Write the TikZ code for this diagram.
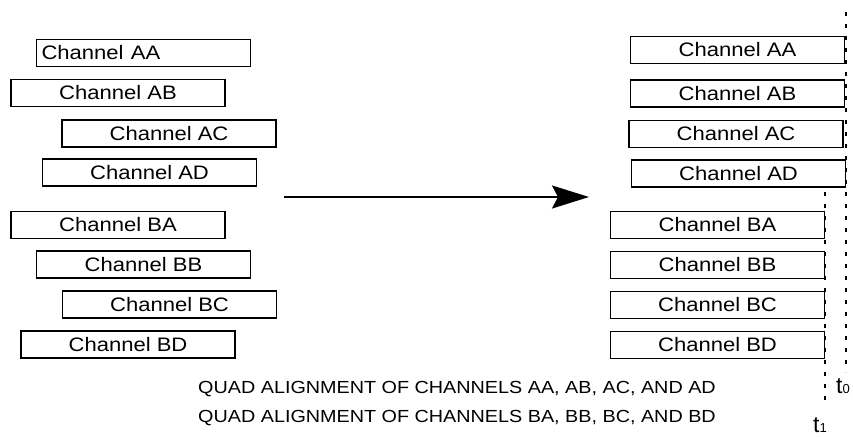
\documentclass[tikz,border=0pt]{standalone}
\usepackage{fontspec}
\usepackage{graphicx}
\setmainfont{Liberation Sans}
\usetikzlibrary{arrows.meta}
\newcommand\sxtext[1]{\scalebox{1.13}[1]{#1}}
\begin{document}
\begin{tikzpicture}[x=1pt,y=-1pt,
  chbox/.style={draw=black, line width=1.9pt, minimum width=214pt, minimum height=27pt, inner sep=0pt,
    font=\fontsize{19.5}{22}\selectfont},
  tline/.style={line width=1.1pt, dash pattern=on 4pt off 8pt},
  caption/.style={font=\fontsize{17.5}{20}\selectfont, anchor=base, inner sep=0pt},
  tlab/.style={font=\fontsize{23}{25}\selectfont, anchor=base west, inner sep=0pt},
  bigarrow/.style={line width=2.2pt, -{Stealth[length=37pt,width=23pt,inset=6pt]}}]
\useasboundingbox (0,0) rectangle (853,436);
% left (unaligned) channels
\node[chbox, align=left, text width=204pt, inner xsep=5pt] (lAA) at (143.5,53) {\sxtext{Channel AA}};
\node[chbox] (lAB) at (118,93) {\sxtext{Channel AB}};
\node[chbox] (lAC) at (169,133.5) {\sxtext{Channel AC}};
\node[chbox] (lAD) at (149.5,172.5) {\sxtext{Channel AD}};
\node[chbox] (lBA) at (118,225) {\sxtext{Channel BA}};
\node[chbox] (lBB) at (143.5,264.5) {\sxtext{Channel BB}};
\node[chbox] (lBC) at (169.5,304.5) {\sxtext{Channel BC}};
\node[chbox] (lBD) at (128,344.5) {\sxtext{Channel BD}};
% right (aligned) channels
\node[chbox] (rAA) at (737.5,50) {\sxtext{Channel AA}};
\node[chbox] (rAB) at (737.5,93.5) {\sxtext{Channel AB}};
\node[chbox] (rAC) at (736,134) {\sxtext{Channel AC}};
\node[chbox] (rAD) at (738.5,173.5) {\sxtext{Channel AD}};
\node[chbox] (rBA) at (717.5,225) {\sxtext{Channel BA}};
\node[chbox] (rBB) at (717.5,265) {\sxtext{Channel BB}};
\node[chbox] (rBC) at (717.5,305) {\sxtext{Channel BC}};
\node[chbox] (rBD) at (717.5,345) {\sxtext{Channel BD}};
% arrow
\coordinate (arrS) at (284,197);
\coordinate (arrE) at (589,197);
\draw[bigarrow] (arrS) -- (arrE);
% time lines
\coordinate (t0top) at (846,12);
\coordinate (t0bot) at (846,372);
\coordinate (t1top) at (825,192);
\coordinate (t1bot) at (825,402);
\draw[tline] (t0top) -- (t0bot);
\draw[tline] (t1top) -- (t1bot);
\node[tlab] (t0lab) at (836,393) {t{\fontsize{13}{14}\selectfont 0}};
\node[tlab] (t1lab) at (813,432) {t{\fontsize{13}{14}\selectfont 1}};
% captions
\node[caption] (cap1) at (457,393) {\sxtext{QUAD ALIGNMENT OF CHANNELS AA, AB, AC, AND AD}};
\node[caption] (cap2) at (457,422) {\sxtext{QUAD ALIGNMENT OF CHANNELS BA, BB, BC, AND BD}};
\end{tikzpicture}
\end{document}
